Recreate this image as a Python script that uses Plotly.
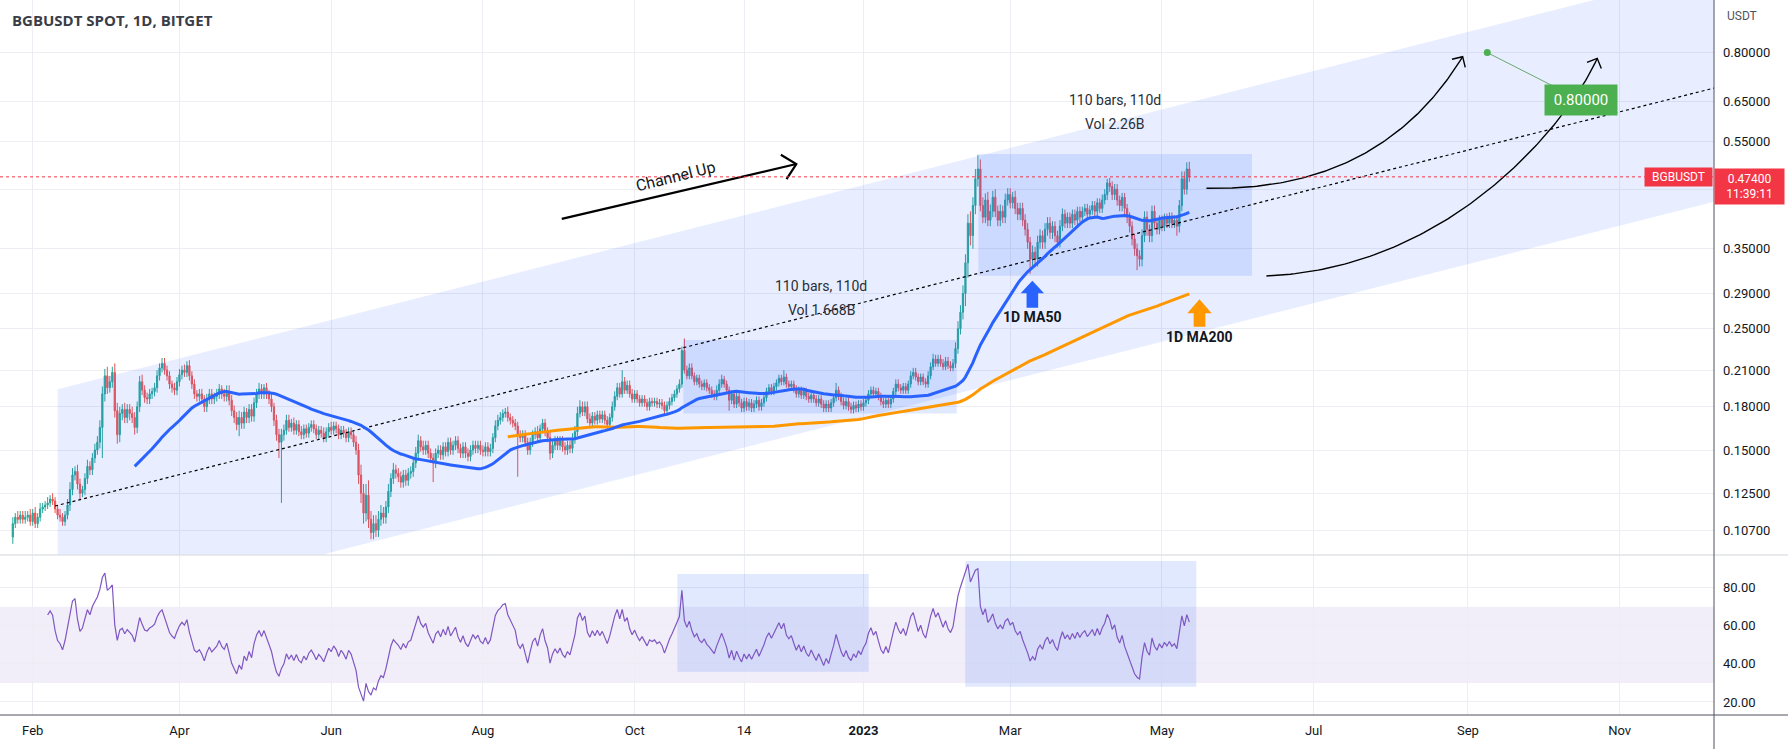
import math
import numpy as np
import pandas as pd
import plotly.graph_objects as go

# ---------------------------------------------------------------- data
TITLE = "BGBUSDT SPOT, 1D, BITGET"
SYMBOL = "BGBUSDT"
START_DATE = "2022-01-24"          # first daily candle
FIRST_OPEN = 104                   # prices below are in 1/1000 USDT
CLOSES = [
    110, 113, 112, 114, 112, 113, 114, 111, 115, 110,
    113, 117, 118, 119, 120, 122, 121, 117, 114, 113,
    111, 114, 119, 127, 135, 137, 130, 125, 127, 133,
    140, 138, 145, 150, 155, 165, 190, 205, 195, 200,
    208, 177, 160, 175, 178, 172, 178, 175, 172, 165,
    180, 200, 193, 187, 186, 190, 192, 195, 205, 212,
    216, 210, 205, 198, 195, 193, 200, 206, 210, 208,
    214, 205, 198, 190, 188, 190, 186, 180, 186, 190,
    186, 188, 190, 194, 190, 188, 192, 185, 177, 172,
    167, 172, 168, 176, 172, 178, 173, 183, 190, 194,
    190, 195, 190, 186, 180, 170, 160, 155, 160, 163,
    170, 165, 168, 163, 167, 162, 160, 164, 161, 165,
    167, 164, 160, 163, 161, 158, 162, 165, 163, 166,
    164, 160, 163, 161, 158, 162, 160, 155, 150, 135,
    125, 115, 124, 112, 106, 110, 107, 112, 115, 113,
    118, 126, 133, 138, 136, 134, 131, 135, 132, 136,
    137, 142, 148, 156, 152, 150, 153, 148, 145, 142,
    148, 150, 147, 152, 149, 155, 150, 153, 156, 151,
    148, 152, 148, 146, 150, 153, 151, 153, 150, 149,
    152, 149, 151, 158, 166, 170, 172, 175, 176, 172,
    170, 168, 166, 160, 158, 160, 155, 150, 155, 160,
    162, 158, 164, 168, 162, 158, 148, 153, 156, 153,
    156, 152, 150, 153, 151, 157, 162, 175, 180, 176,
    180, 171, 168, 173, 170, 174, 171, 174, 170, 167,
    172, 180, 188, 195, 190, 200, 193, 197, 190, 186,
    190, 186, 183, 186, 183, 180, 184, 183, 184, 182,
    183, 181, 177, 181, 184, 187, 190, 194, 198, 228,
    210, 205, 212, 205, 200, 203, 198, 196, 199, 195,
    193, 190, 188, 193, 198, 202, 198, 193, 185, 190,
    182, 188, 183, 179, 184, 180, 183, 179, 182, 185,
    180, 183, 187, 192, 195, 192, 196, 199, 203, 200,
    204, 198, 196, 198, 194, 190, 193, 189, 192, 188,
    186, 189, 186, 183, 186, 182, 179, 182, 179, 183,
    187, 193, 188, 184, 181, 184, 180, 178, 181, 179,
    182, 180, 183, 185, 190, 193, 190, 192, 188, 184,
    182, 185, 182, 186, 192, 198, 195, 193, 196, 193,
    198, 205, 208, 204, 200, 204, 200, 198, 205, 213,
    220, 216, 220, 216, 213, 218, 214, 212, 216, 230,
    250, 268, 290, 330, 390, 370, 420, 470, 490, 420,
    400, 430, 395, 410, 435, 410, 395, 410, 400, 430,
    440, 425, 435, 415, 405, 415, 395, 380, 360, 335,
    345, 335, 360, 370, 360, 380, 390, 375, 385, 370,
    360, 385, 405, 390, 400, 390, 405, 395, 410, 400,
    410, 415, 405, 412, 420, 410, 425, 415, 430, 440,
    462, 455, 440, 450, 430, 420, 435, 415, 400, 385,
    365, 350, 340, 335, 370, 400, 380, 370, 410, 390,
    380, 395, 385, 398, 390, 400, 390, 395, 385, 420,
    470, 450, 490, 474,
]
WICK_UP = [
    3, 2, 3, 2, 2, 3, 2, 3, 2, 3,
    2, 3, 2, 2, 3, 2, 3, 2, 2, 3,
    2, 2, 3, 4, 4, 3, 4, 3, 2, 3,
    4, 3, 3, 4, 4, 5, 6, 6, 8, 5,
    5, 8, 6, 5, 4, 5, 4, 4, 5, 4,
    4, 5, 6, 4, 4, 4, 3, 4, 5, 4,
    5, 5, 4, 4, 3, 4, 4, 5, 4, 5,
    4, 5, 4, 4, 3, 4, 4, 3, 4, 4,
    4, 3, 4, 4, 3, 4, 5, 5, 4, 4,
    4, 5, 4, 4, 3, 4, 4, 4, 4, 5,
    4, 3, 4, 3, 4, 3, 4, 4, 4, 4,
    4, 4, 3, 4, 3, 3, 4, 3, 3, 3,
    3, 3, 3, 3, 3, 4, 3, 3, 4, 3,
    3, 3, 3, 3, 3, 3, 3, 3, 4, 4,
    6, 5, 6, 8, 4, 4, 4, 4, 4, 3,
    3, 4, 3, 4, 3, 3, 3, 3, 3, 3,
    3, 3, 4, 4, 3, 4, 3, 3, 3, 3,
    3, 3, 3, 3, 3, 3, 3, 3, 3, 3,
    3, 3, 3, 3, 3, 3, 3, 3, 3, 3,
    3, 3, 3, 3, 4, 4, 4, 3, 3, 4,
    3, 3, 3, 3, 3, 3, 3, 3, 3, 3,
    3, 4, 3, 3, 3, 3, 4, 3, 3, 3,
    3, 3, 3, 3, 3, 4, 4, 5, 5, 4,
    4, 4, 4, 3, 3, 3, 3, 3, 3, 3,
    3, 4, 4, 4, 4, 10, 4, 4, 4, 4,
    3, 3, 3, 3, 3, 3, 3, 3, 3, 3,
    3, 3, 3, 3, 3, 3, 3, 3, 4, 4,
    12, 4, 4, 4, 3, 3, 3, 3, 3, 3,
    3, 3, 3, 4, 4, 4, 3, 3, 3, 3,
    3, 3, 3, 3, 3, 3, 3, 3, 3, 3,
    3, 3, 3, 3, 3, 3, 3, 3, 3, 3,
    6, 3, 3, 3, 3, 3, 3, 3, 3, 3,
    3, 3, 3, 3, 3, 3, 3, 3, 3, 3,
    3, 6, 3, 3, 3, 3, 3, 3, 3, 3,
    3, 3, 3, 3, 3, 3, 3, 3, 3, 3,
    3, 3, 3, 3, 3, 4, 4, 3, 3, 3,
    3, 4, 4, 4, 3, 3, 3, 3, 4, 4,
    5, 4, 4, 4, 4, 4, 4, 4, 4, 6,
    8, 8, 10, 12, 15, 20, 15, 20, 30, 20,
    15, 12, 15, 12, 12, 15, 10, 12, 10, 12,
    12, 12, 10, 12, 10, 10, 10, 10, 10, 8,
    10, 8, 10, 10, 8, 10, 10, 10, 8, 8,
    8, 10, 10, 8, 8, 8, 8, 8, 8, 8,
    8, 8, 8, 8, 8, 8, 8, 8, 10, 10,
    8, 10, 10, 10, 10, 8, 8, 8, 8, 8,
    8, 8, 8, 8, 10, 10, 10, 8, 10, 10,
    8, 8, 8, 8, 8, 8, 8, 8, 8, 10,
    15, 15, 14, 15,
]
WICK_DN = [
    3, 2, 2, 2, 2, 2, 2, 2, 2, 2,
    2, 2, 2, 2, 2, 2, 2, 2, 2, 2,
    2, 2, 2, 3, 3, 3, 3, 3, 2, 3,
    3, 3, 3, 3, 3, 4, 20, 6, 5, 4,
    5, 5, 6, 5, 5, 4, 4, 5, 4, 5,
    4, 4, 4, 4, 4, 4, 4, 4, 4, 4,
    4, 4, 4, 4, 4, 4, 4, 4, 4, 4,
    4, 4, 4, 4, 4, 4, 4, 4, 4, 4,
    4, 4, 4, 4, 4, 4, 4, 4, 4, 4,
    4, 8, 4, 4, 4, 4, 4, 4, 4, 4,
    4, 4, 4, 4, 4, 4, 4, 10, 35, 4,
    3, 3, 3, 3, 3, 3, 3, 3, 3, 3,
    3, 3, 3, 3, 3, 3, 3, 3, 3, 3,
    3, 3, 3, 3, 3, 3, 3, 3, 3, 5,
    5, 5, 4, 4, 3, 3, 3, 3, 3, 3,
    3, 3, 3, 3, 3, 3, 3, 3, 3, 3,
    3, 3, 3, 3, 3, 3, 3, 3, 3, 11,
    3, 3, 3, 3, 3, 3, 3, 3, 3, 3,
    3, 3, 3, 3, 3, 3, 3, 3, 3, 3,
    3, 3, 3, 3, 3, 3, 3, 3, 3, 3,
    3, 3, 3, 26, 3, 3, 3, 3, 3, 3,
    3, 3, 3, 3, 3, 3, 4, 3, 3, 3,
    3, 3, 3, 3, 3, 3, 3, 3, 3, 3,
    3, 3, 3, 3, 3, 3, 3, 3, 3, 3,
    3, 3, 3, 3, 3, 3, 3, 3, 3, 3,
    3, 3, 3, 3, 3, 3, 3, 3, 3, 3,
    3, 3, 3, 3, 3, 3, 3, 3, 3, 3,
    3, 3, 3, 3, 3, 3, 3, 3, 3, 3,
    3, 3, 3, 3, 3, 3, 3, 3, 8, 3,
    3, 3, 3, 3, 3, 3, 3, 3, 3, 3,
    3, 3, 3, 3, 3, 3, 3, 3, 3, 3,
    3, 3, 3, 3, 3, 3, 3, 3, 3, 3,
    3, 3, 3, 3, 3, 3, 3, 3, 3, 3,
    3, 3, 3, 3, 3, 3, 3, 3, 3, 3,
    3, 3, 3, 3, 3, 3, 3, 3, 3, 3,
    3, 3, 3, 3, 3, 3, 3, 3, 3, 3,
    3, 3, 3, 3, 3, 3, 3, 3, 3, 3,
    3, 3, 3, 3, 3, 3, 3, 3, 3, 4,
    5, 6, 8, 15, 20, 15, 20, 15, 15, 10,
    10, 10, 10, 10, 10, 10, 10, 10, 10, 10,
    10, 10, 10, 10, 10, 10, 10, 10, 10, 20,
    10, 10, 10, 10, 10, 10, 10, 10, 10, 10,
    8, 8, 8, 8, 8, 8, 8, 8, 8, 8,
    8, 8, 8, 8, 8, 8, 8, 8, 8, 8,
    10, 10, 10, 10, 10, 10, 10, 10, 10, 10,
    10, 10, 20, 10, 10, 10, 10, 10, 10, 10,
    8, 8, 8, 8, 8, 8, 8, 8, 15, 10,
    10, 10, 10, 10,
]

PRICE_TICKS = [0.107, 0.125, 0.15, 0.18, 0.21, 0.25, 0.29, 0.35, 0.45, 0.55, 0.65, 0.80]
# the 0.45 label sits under the last-price badge, so only its grid line shows
PRICE_TICK_TEXT = ["0.10700", "0.12500", "0.15000", "0.18000", "0.21000", "0.25000",
                   "0.29000", "0.35000", "", "0.55000", "0.65000", "0.80000"]
RSI_TICKS = [20, 40, 60, 80]
RSI_TICK_TEXT = ["20.00", "40.00", "60.00", "80.00"]
X_TICK_DATES = ["2022-02-01", "2022-04-01", "2022-06-01", "2022-08-01", "2022-10-01",
                "2022-11-14", "2023-01-01", "2023-03-01", "2023-05-01", "2023-07-01",
                "2023-09-01", "2023-11-01"]
X_TICK_TEXT = ["Feb", "Apr", "Jun", "Aug", "Oct", "14", "<b>2023</b>", "Mar", "May",
               "Jul", "Sep", "Nov"]
LAST_PRICE = 0.474
LAST_PRICE_TEXT = "0.47400"
LAST_TIME = "11:39:11"
TARGET_PRICE = 0.80
TARGET_TEXT = "0.80000"
RANGE_A_TEXT = ["110 bars, 110d", "Vol 1.668B"]
RANGE_B_TEXT = ["110 bars, 110d", "Vol 2.26B"]

# -------------------------------------------- drawings (days from 2022-02-01, price)
ORIGIN = pd.Timestamp("2022-02-01")
CHANNEL = [(10.05, 0.1937), (700, 1.2097), (700, 0.4548), (10.05, 0.0728)]
TRENDLINE = [(8.97, 0.1185), (700, 0.734)]
RECT_A = (261.6, 371.5, 0.175, 0.2384)
RECT_B = (380.2, 490.2, 0.3126, 0.522)
RSI_RECT_A = (259.2, 336.1, 35.9, 87.1)
RSI_RECT_B = (374.9, 467.8, 28.0, 94.0)
CH_UP_ARROW = [(212.7, 0.397), (307.0, 0.5003)]
CH_UP_TEXT = (258.3, 0.4743)
CURVE_1 = [(471.9, 0.4517), (541.7, 0.4447), (574.9, 0.7863)]
CURVE_2 = [(496.0, 0.3122), (573.9, 0.3229), (620.1, 0.6282), (629.0, 0.7810)]
TARGET_DOT_DAY = 584.8
TARGET_LABEL = (622.3, 0.6552)
SYMBOL_LABEL_DAY = 661.6
TEXT_A = (317.0, 0.2994, 0.2705)
TEXT_B = (435.0, 0.6552, 0.5915)
MA50_ARROW = (401.9, 0.3061, 0.2903, 0.2732, 4.7, 2.33, 0.2624)
MA200_ARROW = (469.1, 0.2831, 0.2668, 0.2522, 4.9, 2.35, 0.2418)

# ---------------------------------------------------------------- layout constants
W, H = 1788, 749
ML, MR, MT, MB = 0, 74, 0, 34
PLOT_W, PLOT_H = W - ML - MR, H - MT - MB
MAIN_DOM = [0.2245, 1.0]
RSI_DOM = [0.0, 0.2231]
X_RANGE_DAYS = [-13.148, 675.95]
Y_RANGE_LOG = [-1.01503, -0.000696]
RSI_RANGE = [13.18, 96.84]
PX_PER_DAY = PLOT_W / (X_RANGE_DAYS[1] - X_RANGE_DAYS[0])
PX_PER_DEC = PLOT_H * (MAIN_DOM[1] - MAIN_DOM[0]) / (Y_RANGE_LOG[1] - Y_RANGE_LOG[0])

GRID = "#eceef3"
AXIS = "#50535e"
TXT = "#131722"
UP, DOWN = "#26a69a", "#ef5350"
BLUE = "#2962ff"
ORANGE = "#ff9800"
RED = "#f23645"
GREEN = "#4caf50"
FONT = "Roboto, 'Open Sans', sans-serif"


def T(d):
    return (ORIGIN + pd.Timedelta(days=float(d))).strftime("%Y-%m-%d %H:%M:%S")


# ---------------------------------------------------------------- series
n = len(CLOSES)
assert len(WICK_UP) == n and len(WICK_DN) == n, (n, len(WICK_UP), len(WICK_DN))
c = np.array(CLOSES, dtype=float) / 1000
o = np.concatenate([[FIRST_OPEN / 1000], c[:-1]])
h = np.maximum(o, c) + np.array(WICK_UP) / 1000
lo = np.minimum(o, c) - np.array(WICK_DN) / 1000
dates = pd.date_range(START_DATE, periods=n, freq="D")

s = pd.Series(c)
ma50 = s.rolling(50).mean()
ma200 = s.rolling(200).mean()


def rma(x, length):
    out = np.full(len(x), np.nan)
    out[length] = np.mean(x[1:length + 1])
    for i in range(length + 1, len(x)):
        out[i] = (out[i - 1] * (length - 1) + x[i]) / length
    return out


delta = np.diff(c, prepend=c[0])
gain = np.clip(delta, 0, None)
loss = np.clip(-delta, 0, None)
ag, al = rma(gain, 14), rma(loss, 14)
with np.errstate(divide="ignore", invalid="ignore"):
    rsi = np.where(al == 0, 100.0, 100 - 100 / (1 + ag / al))

# ---------------------------------------------------------------- helpers


def head(tip, prev, length, half_deg):
    tx, ty = tip[0] * PX_PER_DAY, -math.log10(tip[1]) * PX_PER_DEC
    px_, py_ = prev[0] * PX_PER_DAY, -math.log10(prev[1]) * PX_PER_DEC
    vx, vy = px_ - tx, py_ - ty
    nn = math.hypot(vx, vy)
    vx, vy = vx / nn, vy / nn
    pts = []
    for sgn in (1, -1):
        a = math.radians(sgn * half_deg)
        rx = vx * math.cos(a) - vy * math.sin(a)
        ry = vx * math.sin(a) + vy * math.cos(a)
        ex, ey = tx + rx * length, ty + ry * length
        pts.append((ex / PX_PER_DAY, 10 ** (-ey / PX_PER_DEC)))
    return [pts[0], tip, pts[1]]


def bezier(ctrl, num=120):
    k = len(ctrl) - 1
    t = np.linspace(0, 1, num)
    d = np.zeros(num)
    lg = np.zeros(num)
    for i, (cd, cp) in enumerate(ctrl):
        b = math.comb(k, i) * t ** i * (1 - t) ** (k - i)
        d += b * cd
        lg += b * math.log10(cp)
    return d, 10 ** lg


def poly(points, color, yaxis="y"):
    pts = list(points) + [points[0]]
    return go.Scatter(x=[T(p[0]) for p in pts], y=[p[1] for p in pts], mode="lines",
                      fill="toself", fillcolor=color, line=dict(width=0, color=color),
                      hoverinfo="skip", showlegend=False, yaxis=yaxis)


def polyline(points, color, width, dash=None, yaxis="y"):
    return go.Scatter(x=[T(p[0]) for p in points], y=[p[1] for p in points], mode="lines",
                      line=dict(color=color, width=width, dash=dash),
                      hoverinfo="skip", showlegend=False, yaxis=yaxis)


def rect(r, color, yaxis="y"):
    d0, d1, p0, p1 = r
    return poly([(d0, p0), (d1, p0), (d1, p1), (d0, p1)], color, yaxis)


def block_arrow(spec, color):
    cd, apex, base, bottom, hw, sw, _ = spec
    return poly([(cd - sw, bottom), (cd - sw, base), (cd - hw, base), (cd, apex),
                 (cd + hw, base), (cd + sw, base), (cd + sw, bottom)], color)


# ---------------------------------------------------------------- figure
fig = go.Figure()
fig.add_trace(poly(CHANNEL, "rgba(41,98,255,0.11)"))
fig.add_trace(rect(RECT_A, "rgba(41,98,255,0.14)"))
fig.add_trace(rect(RECT_B, "rgba(41,98,255,0.14)"))
fig.add_trace(rect(RSI_RECT_A, "rgba(41,98,255,0.14)", "y2"))
fig.add_trace(rect(RSI_RECT_B, "rgba(41,98,255,0.14)", "y2"))

fig.add_trace(go.Candlestick(
    x=dates, open=o, high=h, low=lo, close=c,
    increasing=dict(line=dict(color=UP, width=1), fillcolor=UP),
    decreasing=dict(line=dict(color=DOWN, width=1), fillcolor=DOWN),
    whiskerwidth=0, hoverinfo="skip", showlegend=False, yaxis="y"))

fig.add_trace(polyline(TRENDLINE, "#000000", 1.2, "dot"))
fig.add_trace(go.Scatter(x=dates, y=ma200, mode="lines", line=dict(color=ORANGE, width=3),
                         hoverinfo="skip", showlegend=False))
fig.add_trace(go.Scatter(x=dates, y=ma50, mode="lines", line=dict(color=BLUE, width=3),
                         hoverinfo="skip", showlegend=False))
fig.add_trace(go.Scatter(x=dates, y=rsi, mode="lines", line=dict(color="#7e57c2", width=1.2),
                         hoverinfo="skip", showlegend=False, yaxis="y2"))

# Channel Up arrow
fig.add_trace(polyline(CH_UP_ARROW, "#000000", 2.2))
fig.add_trace(polyline(head(CH_UP_ARROW[1], CH_UP_ARROW[0], 18, 44), "#000000", 2.2))

# curved projection arrows
for curve in (CURVE_1, CURVE_2):
    d, p = bezier(curve)
    fig.add_trace(go.Scatter(x=[T(v) for v in d], y=p, mode="lines",
                             line=dict(color="#000000", width=1.4),
                             hoverinfo="skip", showlegend=False))
    fig.add_trace(polyline(head(curve[-1], curve[-2], 11, 45), "#000000", 1.4))

# MA markers
fig.add_trace(block_arrow(MA50_ARROW, BLUE))
fig.add_trace(block_arrow(MA200_ARROW, ORANGE))

# target price dot + connector
fig.add_trace(polyline([(TARGET_DOT_DAY, TARGET_PRICE), TARGET_LABEL], "#6aa86e", 1))
fig.add_trace(go.Scatter(x=[T(TARGET_DOT_DAY)], y=[TARGET_PRICE], mode="markers",
                         marker=dict(color=GREEN, size=7), hoverinfo="skip", showlegend=False))

# ---------------------------------------------------------------- annotations
ann = []
ann.append(dict(xref="paper", yref="paper", x=0, y=1, xanchor="left", yanchor="middle",
                xshift=10, yshift=-20.4, showarrow=False, text="<b>" + TITLE + "</b>",
                font=dict(family="'Open Sans', sans-serif", size=15, color="#3a3d47")))
ann.append(dict(xref="paper", yref="paper", x=1, y=1, xanchor="left", yanchor="middle",
                xshift=11, yshift=-15.8, showarrow=False, text="USDT",
                font=dict(family=FONT, size=12, color=AXIS)))
for (dd, p1, p2), lines in ((TEXT_A, RANGE_A_TEXT), (TEXT_B, RANGE_B_TEXT)):
    for pp, tt in ((p1, lines[0]), (p2, lines[1])):
        ann.append(dict(x=T(dd), y=math.log10(pp), xref="x", yref="y", showarrow=False,
                        text=tt, font=dict(family=FONT, size=14, color="#2a2e39")))
ann.append(dict(x=T(CH_UP_TEXT[0]), y=math.log10(CH_UP_TEXT[1]), xref="x", yref="y",
                showarrow=False, text="Channel Up", textangle=-14,
                font=dict(family=FONT, size=16, color=TXT)))
for spec, label in ((MA50_ARROW, "1D MA50"), (MA200_ARROW, "1D MA200")):
    ann.append(dict(x=T(spec[0]), y=math.log10(spec[6]), xref="x", yref="y", showarrow=False,
                    text="<b>" + label + "</b>", font=dict(family=FONT, size=14, color=TXT)))
ann.append(dict(x=T(TARGET_LABEL[0]), y=math.log10(TARGET_LABEL[1]), xref="x", yref="y",
                showarrow=False, text=TARGET_TEXT, bgcolor=GREEN, borderpad=3,
                width=66, height=24, font=dict(family=FONT, size=15, color="white")))
ann.append(dict(x=T(SYMBOL_LABEL_DAY), y=math.log10(LAST_PRICE), xref="x", yref="y",
                showarrow=False, text=SYMBOL, bgcolor=RED, borderpad=2, width=63, height=14,
                font=dict(family=FONT, size=12, color="white")))
ann.append(dict(xref="paper", x=1, xanchor="left", yref="y", y=math.log10(LAST_PRICE),
                yanchor="top", yshift=9.3, showarrow=False,
                text=LAST_PRICE_TEXT + "<br>" + LAST_TIME, bgcolor=RED, borderpad=2,
                width=65, height=31, font=dict(family=FONT, size=12, color="white")))

shapes = [
    dict(type="rect", xref="paper", x0=0, x1=1, yref="y2", y0=30, y1=70,
         fillcolor="rgba(126,87,194,0.1)", line=dict(width=0), layer="below"),
    dict(type="line", xref="paper", x0=0, x1=1, yref="y", y0=LAST_PRICE, y1=LAST_PRICE,
         line=dict(color=RED, width=1, dash="dot"), layer="above"),
    dict(type="line", xref="paper", yref="paper", x0=0, x1=W / PLOT_W, y0=0.2238, y1=0.2238,
         line=dict(color="#d1d4dc", width=1)),
    dict(type="line", xref="paper", yref="paper", x0=1, x1=1, y0=-MB / PLOT_H, y1=1,
         line=dict(color=AXIS, width=1)),
    dict(type="line", xref="paper", yref="paper", x0=0, x1=W / PLOT_W, y0=0, y1=0,
         line=dict(color=AXIS, width=1)),
]

fig.update_layout(
    width=W, height=H, margin=dict(l=ML, r=MR, t=MT, b=MB),
    paper_bgcolor="white", plot_bgcolor="white", showlegend=False,
    font=dict(family=FONT, size=13, color=TXT),
    annotations=ann, shapes=shapes,
    xaxis=dict(type="date", range=[T(X_RANGE_DAYS[0]), T(X_RANGE_DAYS[1])], domain=[0, 1],
               anchor="y2", tickmode="array", tickvals=X_TICK_DATES, ticktext=X_TICK_TEXT,
               showgrid=True, gridcolor=GRID, gridwidth=1, showline=False, ticks="",
               zeroline=False, rangeslider=dict(visible=False), ticklabelstandoff=6,
               tickfont=dict(family=FONT, size=13, color=TXT)),
    yaxis=dict(type="log", domain=MAIN_DOM, anchor="x", side="right", range=Y_RANGE_LOG,
               tickmode="array", tickvals=PRICE_TICKS, ticktext=PRICE_TICK_TEXT,
               showgrid=True, gridcolor=GRID, showline=False, ticks="", zeroline=False,
               ticklabelstandoff=8, tickfont=dict(family=FONT, size=13, color=TXT)),
    yaxis2=dict(domain=RSI_DOM, anchor="x", side="right", range=RSI_RANGE,
                tickmode="array", tickvals=RSI_TICKS, ticktext=RSI_TICK_TEXT,
                showgrid=True, gridcolor=GRID, showline=False, ticks="", zeroline=False,
                ticklabelstandoff=8, tickfont=dict(family=FONT, size=13, color=TXT)),
)

# remove the browser's default 8px body margin so the figure sits at the page origin
fig.write_html("out.html", config={"displayModeBar": False},
               post_script="document.body.style.margin='0';document.body.style.overflow='hidden';")
